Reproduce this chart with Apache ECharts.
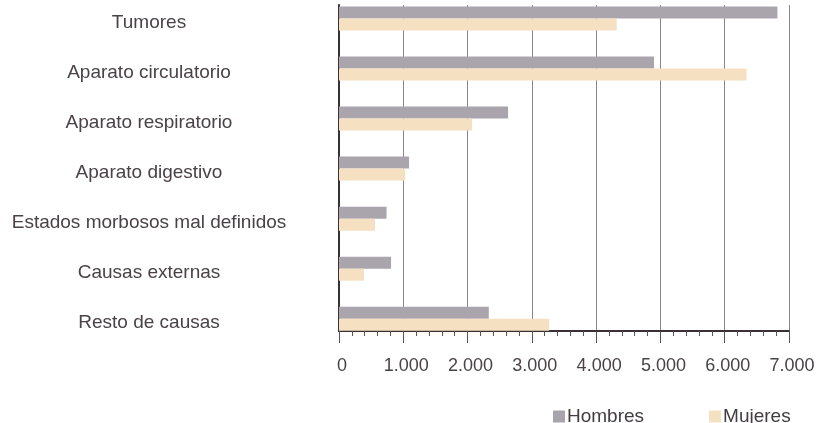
<!DOCTYPE html>
<html>
<head>
<meta charset="utf-8">
<script src="https://cdn.jsdelivr.net/npm/echarts@6/dist/echarts.min.js"></script>
<style>
html,body{margin:0;padding:0;background:#fff;}
#c{width:818px;height:423px;}
</style>
</head>
<body>
<div id="c"></div>
<script>
const categories = ['Tumores','Aparato circulatorio','Aparato respiratorio','Aparato digestivo','Estados morbosos mal definidos','Causas externas','Resto de causas'];
const hombres = [6820, 4900, 2630, 1090, 740, 810, 2330];
const mujeres = [4320, 6340, 2070, 1030, 560, 390, 3270];
const xTickValues = [0,1000,2000,3000,4000,5000,6000,7000];
const xTickLabels = ['0','1.000','2.000','3.000','4.000','5.000','6.000','7.000'];

const font = "'Liberation Sans', Arial, Helvetica, sans-serif";
const chart = echarts.init(document.getElementById('c'));
chart.setOption({
  animation:false,
  backgroundColor:'#ffffff',
  textStyle:{fontFamily:font},
  legend:{
    left:553, top:407, padding:0,
    itemWidth:12, itemHeight:12, itemGap:65,
    icon:'rect',
    textStyle:{fontSize:19,color:'#433b40',fontFamily:font,padding:[0,0,0,-3]},
    data:['Hombres','Mujeres']
  },
  grid:[
    {left:339, right:29, top:18.5, bottom:104.3},
    {left:339, right:29, top:5, bottom:92}
  ],
  xAxis:[
    {gridIndex:0, type:'value', min:0, max:7000, show:false},
    {gridIndex:1, type:'value', min:0, max:7000, interval:1000,
     axisLine:{show:true,onZero:false,lineStyle:{color:'#3a3036',width:2}},
     axisTick:{show:true,length:12,lineStyle:{color:'#5a5056',width:1}},
     minorTick:{show:true,splitNumber:5,length:5,lineStyle:{color:'#5a5056',width:1}},
     splitLine:{show:true,lineStyle:{color:'#8c848c',width:1}},
     axisLabel:{fontSize:18,color:'#4a4247',margin:26,padding:[0,0,0,6],fontFamily:font,
       formatter:function(v){const i=xTickValues.indexOf(v);return i>=0?xTickLabels[i]:'';}}
    }
  ],
  yAxis:[
    {gridIndex:0, type:'category', data:categories, inverse:true, boundaryGap:false,
     axisLine:{show:false}, axisTick:{show:false}, splitLine:{show:false},
     axisLabel:{fontSize:19,color:'#4a4247',align:'center',verticalAlign:'top',lineHeight:8,margin:190,fontFamily:font}
    },
    {gridIndex:1, type:'value', min:0, max:1,
     axisLine:{show:true,lineStyle:{color:'#3a3036',width:2}},
     axisTick:{show:false}, axisLabel:{show:false}, splitLine:{show:false}
    }
  ],
  series:[
    {name:'Hombres', type:'bar', xAxisIndex:0, yAxisIndex:0, data:hombres,
     barWidth:12, barGap:'0%', itemStyle:{color:'#aaa5ac'}},
    {name:'Mujeres', type:'bar', xAxisIndex:0, yAxisIndex:0, data:mujeres,
     barWidth:12, barGap:'0%', itemStyle:{color:'#f5e0c2'}}
  ]
});
</script>
</body>
</html>
